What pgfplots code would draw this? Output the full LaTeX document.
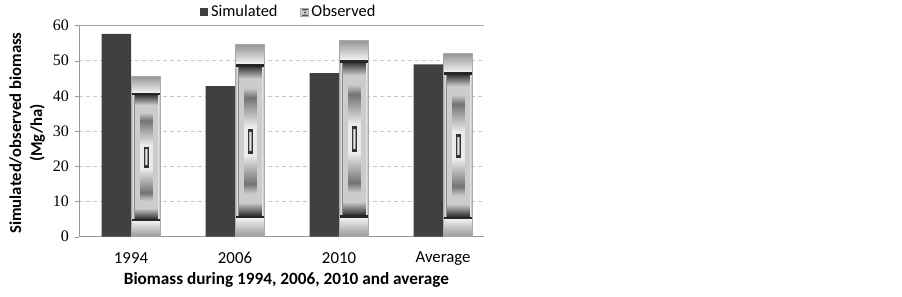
\documentclass[border=0pt]{standalone}
\usepackage{fontspec}
\setmainfont{Carlito}
\newfontfamily\serifnum{Liberation Serif}
\usepackage{pgfplots}
\pgfplotsset{compat=1.18}

\definecolor{simcol}{RGB}{64,64,64}
\definecolor{gridcol}{RGB}{200,200,200}
\definecolor{axcol}{RGB}{150,150,150}
\definecolor{obsedge}{RGB}{170,170,170}

\pgfdeclarefunctionalshading{obs}{\pgfpoint{-50bp}{-50bp}}{\pgfpoint{50bp}{50bp}}{}{
25 div abs exch 25 div abs exch
dup 0.8 gt
{ exch pop 0.8 sub 0.2 div 0.36 mul 0.95 exch sub }
{ dup 0.775 gt
  { pop pop 0.15 }
  { exch dup 0.82 gt
    { exch pop 0.82 sub 0.18 div 0.2 mul 0.9 exch sub }
    { dup 0.79 gt
      { pop pop 0.55 }
      { exch
        dup 0.64 gt
        { exch pop 0.64 sub 0.135 div 0.62 mul 0.82 exch sub }
        { 1 index 0.45 lt 1 index 0.55 lt and
          { 1 index 0.17 lt 1 index 0.13 lt and
            { 1 index 0.11 gt 1 index 0.1 gt or
              { pop pop 0.2 }
              { pop 4.5 mul 0.95 exch sub } ifelse }
            { exch pop dup 0.15 lt
              { pop 0.92 }
              { dup 0.45 gt
                { 0.45 sub 0.1 div 0.35 mul 0.45 add }
                { 0.15 sub 0.3 div 0.47 mul 0.92 exch sub }
                ifelse }
              ifelse }
            ifelse }
          { pop pop 0.8 }
          ifelse }
        ifelse }
      ifelse }
    ifelse }
  ifelse }
ifelse
dup dup
}

\pgfplotsset{
  obsbar/.style={ybar, bar width=22.1pt, bar shift=11.05pt, shade, shading=obs, draw=obsedge, line width=0.5pt},
}

\begin{document}
\begin{tikzpicture}
\path (0,0) rectangle (676.5pt,221.25pt);
\begin{axis}[
  at={(59.25pt,44.5pt)}, anchor=south west,
  scale only axis, width=303.75pt, height=158.4pt,
  xmin=-0.5, xmax=3.394, ymin=0, ymax=60,
  axis x line*=bottom, axis y line*=left,
  axis line style={draw=axcol, -},
  xtick={0,1,2,3},
  xticklabels={1994,2006,2010,Average},
  x tick style={draw=none},
  extra x ticks={-0.5,0.5,1.5,2.5},
  extra x tick labels={},
  extra x tick style={tick style={draw=axcol}, major tick length=4pt, tick align=outside},
  ytick={0,10,20,30,40,50},
  extra y ticks={60},
  extra y tick style={grid style={draw=axcol!85, solid}},
  y tick style={draw=axcol},
  major tick length=3pt, tick align=outside,
  ymajorgrids,
  grid style={draw=gridcol, dash pattern=on 3pt off 2.25pt},
  /pgf/number format/assume math mode=true,
  yticklabel style={font=\serifnum\fontsize{12}{14}\selectfont, xshift=-1pt},
  xticklabel style={font=\fontsize{12.6}{14}\selectfont, yshift=-5pt},
  xlabel={Biomass during 1994, 2006, 2010 and average},
  xlabel style={font=\bfseries\fontsize{12.9}{15}\selectfont, at={(axis description cs:0.512,-0.205)}, anchor=center},
  ylabel={Simulated/observed biomass\\(Mg/ha)},
  ylabel style={font=\bfseries\fontsize{12.5}{15.75}\selectfont, align=center, at={(axis description cs:-0.128,0.491)}, anchor=center},
  legend style={at={(axis description cs:0.519,1.064)}, anchor=center, draw=none, fill=none,
    legend columns=2, font=\fontsize{12.3}{14}\selectfont,
    /tikz/every even column/.append style={column sep=15pt}},
]
\addplot[ybar, bar width=22.1pt, bar shift=-11.05pt, fill=simcol, draw=none,
  legend image code/.code={\fill[simcol] (0pt,-3pt) rectangle (6pt,3pt);}]
  coordinates {(0,57.6) (1,42.8) (2,46.5) (3,49.0)};
\addlegendentry{Simulated}
\addplot[obsbar,
  legend image code/.code={\path[shade, shading=obs, draw=obsedge, line width=0.4pt] (0pt,-3pt) rectangle (6pt,3pt);}]
  coordinates {(0,45.5)};
\addlegendentry{Observed}
\addplot[obsbar, forget plot] coordinates {(1,54.6)};
\addplot[obsbar, forget plot] coordinates {(2,55.8)};
\addplot[obsbar, forget plot] coordinates {(3,52.0)};
\end{axis}
\end{tikzpicture}
\end{document}
